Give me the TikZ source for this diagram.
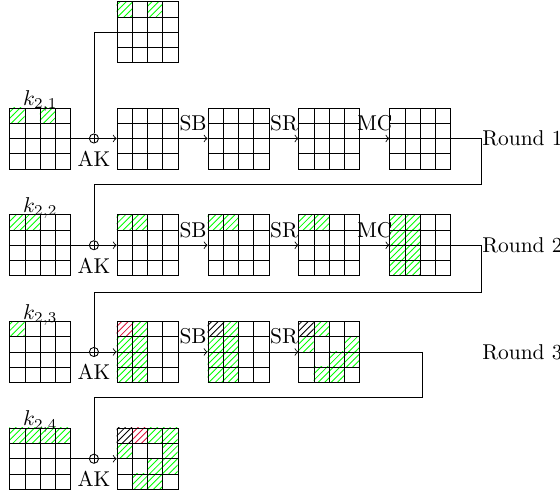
\documentclass[tikz,border=0pt]{standalone}
\usepackage{amsmath}
\usepackage{tikz}
\usetikzlibrary{arrows,backgrounds,patterns,positioning}
\definecolor{hatchred}{RGB}{220,20,60}

\begin{document}
\begin{tikzpicture}
[block/.style={rectangle,draw,inner sep=0pt,minimum size=1cm,
  path picture={\draw [step=0.25cm] (path picture bounding box.south west) grid (path picture bounding box.north east);}},
 xor/.style={circle,draw,inner sep=0pt,minimum size=0.15cm,
  path picture={\draw (path picture bounding box.north) -- (path picture bounding box.south)
   (path picture bounding box.west) -- (path picture bounding box.east);}},
 keylab/.style={label={[label distance=-5.5pt]above:#1}},
 act/.style={pattern=north east lines,pattern color=green},
 actred/.style={pattern=north east lines,pattern color=hatchred},
 actblack/.style={pattern=north east lines,pattern color=black}]
\useasboundingbox (0,0) rectangle (9.18,-8.11);

\node[block] (k0) at (2.42,-0.53) {};

\node[block] (k1) at (0.66,-2.27) [keylab=$k_{2,1}$] {};
\node[xor] (xor1) at (1.54,-2.27) [label=below:AK] {};
\node[block] (s11) at (2.42,-2.27) {};
\node[block] (s12) at (3.91,-2.27) {};
\node[block] (s13) at (5.40,-2.27) {};
\node[block] (s14) at (6.89,-2.27) {};
\coordinate (r1) at (7.90,-2.27);
\node[anchor=west,inner sep=0pt] (round1) at (r1) {Round 1};

\node[block] (k2) at (0.66,-4.02) [keylab=$k_{2,2}$] {};
\node[xor] (xor2) at (1.54,-4.02) [label=below:AK] {};
\node[block] (s21) at (2.42,-4.02) {};
\node[block] (s22) at (3.91,-4.02) {};
\node[block] (s23) at (5.40,-4.02) {};
\node[block] (s24) at (6.89,-4.02) {};
\coordinate (r2) at (7.90,-4.02);
\node[anchor=west,inner sep=0pt] (round2) at (r2) {Round 2};

\node[block] (k3) at (0.66,-5.77) [keylab=$k_{2,3}$] {};
\node[xor] (xor3) at (1.54,-5.77) [label=below:AK] {};
\node[block] (s31) at (2.42,-5.77) {};
\node[block] (s32) at (3.91,-5.77) {};
\node[block] (s33) at (5.40,-5.77) {};
\coordinate (r3) at (6.92,-5.77);
\node[anchor=west,inner sep=0pt] (round3) at (7.90,-5.77) {Round 3};

\node[block] (k4) at (0.66,-7.52) [keylab=$k_{2,4}$] {};
\node[xor] (xor4) at (1.54,-7.52) [label=below:AK] {};
\node[block] (s41) at (2.42,-7.52) {};

\coordinate (t2) at (1.54,-3.02);
\coordinate (t3) at (1.54,-4.79);
\coordinate (t4) at (1.54,-6.51);

\draw [-] (k0.west) -| (xor1);
\draw [-] (k1) -- (xor1);
\draw [->] (xor1) -- (s11);
\draw [->] (s11) -- node[above] {SB} (s12);
\draw [->] (s12) -- node[above] {SR} (s13);
\draw [->] (s13) -- node[above] {MC} (s14);
\draw [-] (s14) -- (r1);

\draw [-] (r1) |- (t2) -- (xor2);
\draw [-] (k2) -- (xor2);
\draw [->] (xor2) -- (s21);
\draw [->] (s21) -- node[above] {SB} (s22);
\draw [->] (s22) -- node[above] {SR} (s23);
\draw [->] (s23) -- node[above] {MC} (s24);
\draw [-] (s24) -- (r2);

\draw [-] (r2) |- (t3) -- (xor3);
\draw [-] (k3) -- (xor3);
\draw [->] (xor3) -- (s31);
\draw [->] (s31) -- node[above] {SB} (s32);
\draw [->] (s32) -- node[above] {SR} (s33);
\draw [-] (s33) -- (r3);

\draw [-] (r3) |- (t4) -- (xor4);
\draw [-] (k4) -- (xor4);
\draw [->] (xor4) -- (s41);

\begin{scope}[on background layer]
\foreach \c/\r in {0/0,2/0} \fill[act,shift={(k0.north west)}] (0.25*\c,-0.25*\r) rectangle +(0.25,-0.25);
\foreach \c/\r in {0/0,2/0} \fill[act,shift={(k1.north west)}] (0.25*\c,-0.25*\r) rectangle +(0.25,-0.25);
\foreach \g in {k2,s21,s22,s23}
  \foreach \c/\r in {0/0,1/0} \fill[act,shift={(\g.north west)}] (0.25*\c,-0.25*\r) rectangle +(0.25,-0.25);
\foreach \c/\r in {0/0,0/1,0/2,0/3,1/0,1/1,1/2,1/3} \fill[act,shift={(s24.north west)}] (0.25*\c,-0.25*\r) rectangle +(0.25,-0.25);
\fill[act,shift={(k3.north west)}] (0,0) rectangle +(0.25,-0.25);
\foreach \g in {s31,s32}
  \foreach \c/\r in {0/1,0/2,0/3,1/0,1/1,1/2,1/3} \fill[act,shift={(\g.north west)}] (0.25*\c,-0.25*\r) rectangle +(0.25,-0.25);
\fill[actred,shift={(s31.north west)}] (0,0) rectangle +(0.25,-0.25);
\fill[actblack,shift={(s32.north west)}] (0,0) rectangle +(0.25,-0.25);
\foreach \c/\r in {1/0,0/1,3/1,2/2,3/2,1/3,2/3} \fill[act,shift={(s33.north west)}] (0.25*\c,-0.25*\r) rectangle +(0.25,-0.25);
\fill[actblack,shift={(s33.north west)}] (0,0) rectangle +(0.25,-0.25);
\foreach \c/\r in {0/0,1/0,2/0,3/0} \fill[act,shift={(k4.north west)}] (0.25*\c,-0.25*\r) rectangle +(0.25,-0.25);
\foreach \c/\r in {2/0,3/0,0/1,3/1,2/2,3/2,1/3,2/3} \fill[act,shift={(s41.north west)}] (0.25*\c,-0.25*\r) rectangle +(0.25,-0.25);
\fill[actblack,shift={(s41.north west)}] (0,0) rectangle +(0.25,-0.25);
\fill[actred,shift={(s41.north west)}] (0.25,0) rectangle +(0.25,-0.25);
\end{scope}
\end{tikzpicture}
\end{document}
